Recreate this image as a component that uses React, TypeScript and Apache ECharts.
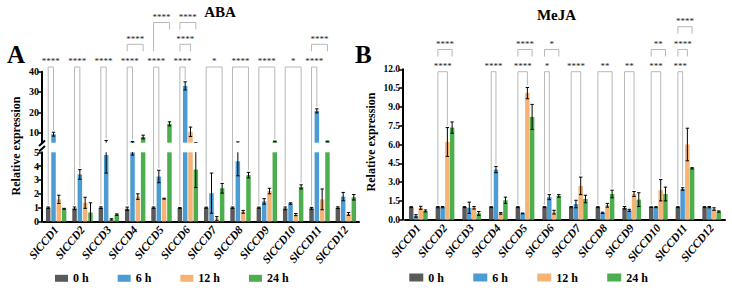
import React, { useEffect, useRef } from 'react';
import * as echarts from 'echarts';

const genes = ['SlCCD1', 'SlCCD2', 'SlCCD3', 'SlCCD4', 'SlCCD5', 'SlCCD6', 'SlCCD7', 'SlCCD8', 'SlCCD9', 'SlCCD10', 'SlCCD11', 'SlCCD12'];
const timePoints = ['0 h', '6 h', '12 h', '24 h'];
const timeColors = ['#5a5a5a', '#4a9cd2', '#f5b476', '#4cae4c'];

// ABA treatment: mean relative expression and SEM
const aba0h = [1.0, 0.95, 1.0, 0.92, 1.0, 0.97, 1.0, 1.0, 1.0, 0.95, 0.95, 1.0];
const aba0hSem = [0.05, 0.1, 0.06, 0.12, 0.05, 0.04, 0.04, 0.05, 0.04, 0.1, 0.07, 0.06];
const aba6h = [9.2, 3.4, 4.8, 5.2, 3.25, 33.0, 2.05, 4.35, 1.45, 1.3, 20.7, 1.8];
const aba6hSem = [0.95, 0.35, 1.3, 0.4, 0.45, 2.0, 1.45, 1.05, 0.2, 0.05, 1.0, 0.3];
const aba12h = [1.6, 1.35, 0.15, 1.8, 1.65, 10.4, 0.2, 0.7, 2.2, 0.5, 1.6, 0.55];
const aba12hSem = [0.3, 0.4, 0.05, 0.2, 0.03, 2.3, 0.15, 0.1, 0.2, 0.08, 0.75, 0.1];
const aba24h = [0.92, 0.65, 0.5, 7.8, 14.3, 3.75, 2.4, 3.35, 5.6, 2.5, 5.6, 1.75];
const aba24hSem = [0.03, 0.7, 0.05, 0.9, 1.0, 1.3, 0.35, 0.2, 0.2, 0.15, 0.2, 0.2];

// MeJA treatment: mean relative expression and SEM
const meja0h = [1.0, 1.0, 1.0, 1.0, 1.0, 1.0, 1.0, 1.0, 0.95, 1.0, 1.0, 1.0];
const meja0hSem = [0.04, 0.05, 0.04, 0.04, 0.04, 0.04, 0.05, 0.04, 0.1, 0.03, 0.04, 0.04];
const meja6h = [0.3, 1.0, 0.95, 4.0, 0.5, 1.8, 1.25, 0.55, 0.75, 1.0, 2.45, 1.0];
const meja6hSem = [0.1, 0.05, 0.45, 0.25, 0.03, 0.2, 0.3, 0.05, 0.08, 0.04, 0.1, 0.05];
const meja12h = [0.95, 6.2, 0.95, 0.5, 10.1, 0.6, 2.7, 1.15, 2.05, 2.35, 6.0, 0.85];
const meja12hSem = [0.12, 1.15, 0.1, 0.06, 0.45, 0.15, 0.7, 0.15, 0.2, 0.85, 1.3, 0.1];
const meja24h = [0.7, 7.35, 0.5, 1.55, 8.2, 1.9, 1.65, 2.05, 1.6, 2.05, 4.1, 0.65];
const meja24hSem = [0.08, 0.45, 0.15, 0.25, 1.0, 0.1, 0.3, 0.3, 0.55, 0.55, 0.05, 0.05];

// broken ABA axis: lower segment 0-5, upper segment 5-40
const abaBreak = 5;
const abaUpperMax = 40;
const abaUpperTicks = [10, 20, 30, 40];
const mejaMax = 12;
const mejaStep = 1.5;

// significance brackets: 0 h compared with time point `vs`, stacked in tiers
type Sig = { gene: number; vs: number; tier: number; mark: string; longLeft?: boolean };
const abaSig: Sig[] = [
  { gene: 0, vs: 1, tier: 1, mark: '****' },
  { gene: 1, vs: 1, tier: 1, mark: '****' },
  { gene: 2, vs: 1, tier: 1, mark: '****' },
  { gene: 3, vs: 1, tier: 1, mark: '****' },
  { gene: 3, vs: 3, tier: 2, mark: '****' },
  { gene: 4, vs: 1, tier: 1, mark: '****' },
  { gene: 4, vs: 3, tier: 3, mark: '****', longLeft: true },
  { gene: 5, vs: 1, tier: 1, mark: '****' },
  { gene: 5, vs: 2, tier: 2, mark: '****' },
  { gene: 5, vs: 3, tier: 3, mark: '****' },
  { gene: 6, vs: 3, tier: 1, mark: '*' },
  { gene: 7, vs: 3, tier: 1, mark: '****' },
  { gene: 8, vs: 3, tier: 1, mark: '****' },
  { gene: 9, vs: 3, tier: 1, mark: '*' },
  { gene: 10, vs: 1, tier: 1, mark: '****' },
  { gene: 10, vs: 3, tier: 2, mark: '****' },
];
const mejaSig: Sig[] = [
  { gene: 1, vs: 2, tier: 1, mark: '****' },
  { gene: 1, vs: 3, tier: 2, mark: '****' },
  { gene: 3, vs: 1, tier: 1, mark: '****' },
  { gene: 4, vs: 2, tier: 1, mark: '****' },
  { gene: 4, vs: 3, tier: 2, mark: '****' },
  { gene: 5, vs: 1, tier: 1, mark: '*' },
  { gene: 5, vs: 3, tier: 2, mark: '*' },
  { gene: 6, vs: 2, tier: 1, mark: '****' },
  { gene: 7, vs: 3, tier: 1, mark: '**' },
  { gene: 8, vs: 2, tier: 1, mark: '**' },
  { gene: 9, vs: 2, tier: 1, mark: '***' },
  { gene: 9, vs: 3, tier: 2, mark: '**' },
  { gene: 10, vs: 1, tier: 1, mark: '***' },
  { gene: 10, vs: 2, tier: 2, mark: '****' },
  { gene: 10, vs: 3, tier: 3, mark: '****' },
];

const FONT = "'Liberation Serif', 'Times New Roman', serif";
const W = 732;
const H = 288;

export default function App() {
  const ref = useRef<HTMLDivElement>(null);

  useEffect(() => {
    const el = ref.current;
    if (!el) return;
    const chart = echarts.init(el, undefined, { renderer: 'svg' });

    const abaMeans = [aba0h, aba6h, aba12h, aba24h];
    const abaSems = [aba0hSem, aba6hSem, aba12hSem, aba24hSem];
    const mejaMeans = [meja0h, meja6h, meja12h, meja24h];
    const mejaSems = [meja0hSem, meja6hSem, meja12hSem, meja24hSem];

    const A = { left: 43, width: 316, upTop: 71.7, upH: 71, lowTop: 152.3, lowH: 69.2, barW: 4.5, gap: 0.18 };
    const B = { left: 405, width: 320, top: 69.3, h: 150.4, barW: 4.5, gap: 0.055 };

    const catAxis = (gridIndex: number, show: boolean) => ({
      type: 'category',
      gridIndex,
      data: genes,
      show,
      axisLine: { lineStyle: { color: '#000', width: 2 } },
      axisTick: { alignWithLabel: true, length: 4, lineStyle: { color: '#000', width: 1.5 } },
      axisLabel: {
        interval: 0, rotate: 50, margin: 6, color: '#000',
        fontFamily: FONT, fontWeight: 'bold', fontStyle: 'italic', fontSize: 11.5,
      },
    });

    const axisLine = { show: true, lineStyle: { color: '#000', width: 2 } };
    const tickStyle = { color: '#000', width: 1.5 };
    const labelStyle = (fontSize: number) => ({
      color: '#000', fontFamily: FONT, fontWeight: 'bold', fontSize, margin: 3,
    });

    const errorRender = (barW: number, gap: number) => (_params: any, api: any) => {
      const gene = api.value(0) as number;
      const mean = api.value(1) as number;
      const sem = api.value(2) as number;
      const t = api.value(3) as number;
      const dx = (t - 1.5) * barW * (1 + gap);
      const hi = api.coord([gene, mean + sem]);
      const lo = api.coord([gene, mean - sem]);
      const x = hi[0] + dx;
      const cap = 1.7;
      const style = { stroke: '#000', lineWidth: 1 };
      return {
        type: 'group',
        children: [
          { type: 'line', shape: { x1: x, y1: hi[1], x2: x, y2: lo[1] }, style },
          { type: 'line', shape: { x1: x - cap, y1: hi[1], x2: x + cap, y2: hi[1] }, style },
          { type: 'line', shape: { x1: x - cap, y1: lo[1], x2: x + cap, y2: lo[1] }, style },
        ],
      };
    };

    const errRows = (means: number[][], sems: number[][]) => {
      const rows: number[][] = [];
      means.forEach((m, t) => m.forEach((v, g) => rows.push([g, v, sems[t][g], t])));
      return rows;
    };

    const series: any[] = [];
    timePoints.forEach((name, t) => {
      const common = { type: 'bar', name, barWidth: A.barW, barGap: `${A.gap * 100}%`, silent: true, itemStyle: { color: timeColors[t] } };
      series.push({ ...common, xAxisIndex: 0, yAxisIndex: 0, data: abaMeans[t] });
      series.push({ ...common, xAxisIndex: 1, yAxisIndex: 1, data: abaMeans[t] });
      series.push({
        type: 'bar', name, barWidth: B.barW, barGap: `${B.gap * 100}%`, silent: true,
        itemStyle: { color: timeColors[t] }, xAxisIndex: 2, yAxisIndex: 2, data: mejaMeans[t],
      });
    });
    const abaErr = errRows(abaMeans, abaSems);
    const mejaErr = errRows(mejaMeans, mejaSems);
    series.push({ type: 'custom', xAxisIndex: 0, yAxisIndex: 0, clip: true, z: 3, silent: true, encode: { x: 0, y: 1 }, renderItem: errorRender(A.barW, A.gap), data: abaErr });
    series.push({ type: 'custom', xAxisIndex: 1, yAxisIndex: 1, clip: true, z: 3, silent: true, encode: { x: 0, y: 1 }, renderItem: errorRender(A.barW, A.gap), data: abaErr });
    series.push({ type: 'custom', xAxisIndex: 2, yAxisIndex: 2, clip: true, z: 3, silent: true, encode: { x: 0, y: 1 }, renderItem: errorRender(B.barW, B.gap), data: mejaErr });

    const legendText = { fontFamily: FONT, fontWeight: 'bold', fontSize: 12, color: '#000' };

    chart.setOption({
      animation: false,
      backgroundColor: '#fff',
      grid: [
        { left: A.left, top: A.lowTop, width: A.width, height: A.lowH },
        { left: A.left, top: A.upTop, width: A.width, height: A.upH },
        { left: B.left, top: B.top, width: B.width, height: B.h },
      ],
      xAxis: [catAxis(0, true), catAxis(1, false), catAxis(2, true)],
      yAxis: [
        {
          type: 'value', gridIndex: 0, min: 0, max: abaBreak, interval: 1, offset: 1,
          axisLine, axisTick: { show: true, length: 4, lineStyle: tickStyle },
          axisLabel: labelStyle(10), splitLine: { show: false },
        },
        {
          type: 'value', gridIndex: 1, min: abaBreak, max: abaUpperMax, offset: 1,
          axisLine,
          axisTick: { show: true, length: 4, lineStyle: tickStyle, customValues: abaUpperTicks },
          axisLabel: { ...labelStyle(10), customValues: abaUpperTicks },
          splitLine: { show: false },
        },
        {
          type: 'value', gridIndex: 2, min: 0, max: mejaMax, interval: mejaStep, offset: 2,
          axisLine, axisTick: { show: true, length: 4, lineStyle: tickStyle },
          axisLabel: { ...labelStyle(9.5), formatter: (v: number) => v.toFixed(1) },
          splitLine: { show: false },
        },
      ],
      legend: [
        {
          data: timePoints, left: 55, top: 272.3, padding: 0, icon: 'rect', itemWidth: 13, itemHeight: 7,
          itemGap: 29, selectedMode: false, textStyle: legendText,
        },
        {
          data: timePoints, left: 409.3, top: 271.5, padding: 0, icon: 'rect', itemWidth: 14, itemHeight: 8,
          itemGap: 29.3, selectedMode: false, textStyle: legendText,
        },
      ],
      series,
    });

    // brackets and annotations placed through the axes' own scales
    const px = (xi: number, g: number, v: number) =>
      chart.convertToPixel({ xAxisIndex: xi, yAxisIndex: xi }, [g, v]) as number[];
    const abaY = (v: number) => (v > abaBreak ? px(1, 0, v)[1] : px(0, 0, v)[1]);
    const mejaY = (v: number) => px(2, 0, v)[1];

    const graphics: any[] = [];
    const bracketStyle = { stroke: '#b8b8b8', lineWidth: 1, fill: null };
    const legLen = 7;

    const addBrackets = (
      sigs: Sig[], xi: number, barW: number, gap: number, tiers: number[],
      means: number[][], sems: number[][], yOf: (v: number) => number,
    ) => {
      const pitch = barW * (1 + gap);
      sigs.forEach((s) => {
        const cx = px(xi, s.gene, 0)[0];
        const xL = cx - 1.5 * pitch;
        const xR = cx + (s.vs - 1.5) * pitch;
        const yLine = tiers[s.tier - 1];
        const leftEnd = s.tier === 1
          ? yOf(means[0][s.gene] + sems[0][s.gene]) - 2
          : s.longLeft ? tiers[1] + legLen : yLine + legLen;
        const rightEnd = s.tier === 1
          ? yOf(means[s.vs][s.gene] + sems[s.vs][s.gene]) - 2
          : yLine + legLen;
        graphics.push({
          type: 'polyline', silent: true,
          shape: { points: [[xL, leftEnd], [xL, yLine], [xR, yLine], [xR, rightEnd]] },
          style: bracketStyle,
        });
        graphics.push({
          type: 'text', silent: true, x: (xL + xR) / 2, y: yLine - 5.8,
          style: { text: s.mark, fontFamily: FONT, fontSize: 9, fill: '#222', align: 'center', verticalAlign: 'middle' },
        });
      });
    };

    addBrackets(abaSig, 0, A.barW, A.gap, [A.upTop - 4.7, A.upTop - 27.4, A.upTop - 49.2], abaMeans, abaSems, abaY);
    addBrackets(mejaSig, 2, B.barW, B.gap, [B.top + 2.4, B.top - 19.8, B.top - 42.6], mejaMeans, mejaSems, mejaY);

    // axis break marks on the ABA value axis
    const axisX = A.left - 1;
    const mid = (A.upTop + A.upH + A.lowTop) / 2;
    const breakStyle = { stroke: '#000', lineWidth: 2 };
    graphics.push({ type: 'line', silent: true, shape: { x1: axisX - 3, y1: mid - 1.5, x2: axisX + 3, y2: mid - 7 }, style: breakStyle });
    graphics.push({ type: 'line', silent: true, shape: { x1: axisX - 3, y1: mid + 4, x2: axisX + 3, y2: mid - 1.5 }, style: breakStyle });

    const txt = (text: string, x: number, y: number, fontSize: number, align = 'center') => ({
      type: 'text', silent: true, x, y,
      style: { text, fontFamily: FONT, fontWeight: 'bold', fontSize, fill: '#000', align, verticalAlign: 'middle' },
    });
    graphics.push(txt('A', 7, 54.5, 25, 'left'));
    graphics.push(txt('B', 355, 54.5, 25, 'left'));
    graphics.push(txt('ABA', 220, 12, 15));
    graphics.push(txt('MeJA', 556.5, 14.5, 15));
    graphics.push({ ...txt('Relative expression', 16, 146, 12), rotation: Math.PI / 2 });
    graphics.push({ ...txt('Relative expression', 371, 142, 12), rotation: Math.PI / 2 });

    chart.setOption({ graphic: graphics });

    return () => chart.dispose();
  }, []);

  return (
    <div
      ref={ref}
      style={{ position: 'fixed', left: 0, top: 0, width: W, height: H, background: '#fff' }}
    />
  );
}
